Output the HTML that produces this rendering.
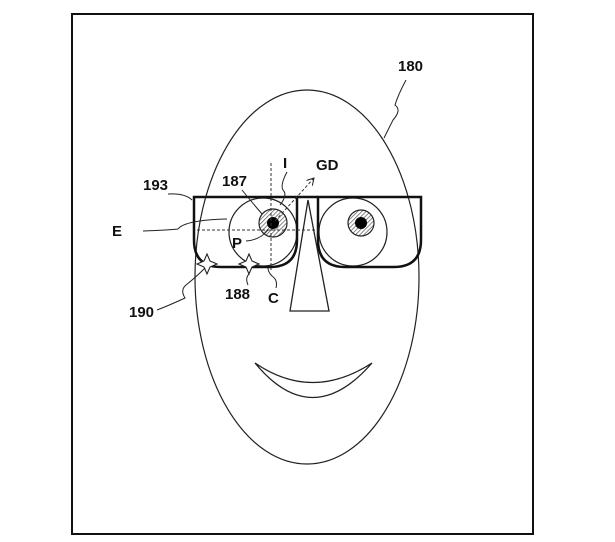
<!DOCTYPE html>
<html><head><style>body{margin:0;background:#fff}svg{display:block}text{font-family:"Liberation Sans",sans-serif;font-weight:bold;font-size:15px;fill:#111}</style></head><body>
<svg width="615" height="542" viewBox="0 0 615 542" xmlns="http://www.w3.org/2000/svg">
<defs><pattern id="h" width="3" height="3" patternUnits="userSpaceOnUse" patternTransform="rotate(45)"><rect width="3" height="3" fill="#fff"/><line x1="0" y1="0" x2="0" y2="3" stroke="#555" stroke-width="1.4"/></pattern>
<marker id="a" markerWidth="8" markerHeight="8" refX="7" refY="4" orient="auto"><path d="M0,0 L7,4 L0,8" fill="none" stroke="#222" stroke-width="1"/></marker></defs>
<rect x="72" y="14" width="461" height="520" fill="none" stroke="#111" stroke-width="2"/>
<ellipse cx="307" cy="277" rx="112" ry="187" fill="none" stroke="#222" stroke-width="1.2"/>
<path d="M255,363 Q312,432 372,363 Q312,402 255,363Z" fill="none" stroke="#222" stroke-width="1.3"/>
<path d="M308,200 L290,311 L329,311Z" fill="none" stroke="#222" stroke-width="1.3"/>
<circle cx="263" cy="232" r="34" fill="none" stroke="#222" stroke-width="1.2"/>
<circle cx="353" cy="232" r="34" fill="none" stroke="#222" stroke-width="1.2"/>
<circle cx="273" cy="223" r="14" fill="url(#h)" stroke="#222" stroke-width="1.2"/>
<circle cx="273" cy="223" r="6" fill="#000"/>
<circle cx="361" cy="223" r="13" fill="url(#h)" stroke="#222" stroke-width="1.2"/>
<circle cx="361" cy="223" r="6" fill="#000"/>
<path d="M194,197 L297,197 L297,240 Q297,267 270,267 L221,267 Q194,267 194,240Z" fill="none" stroke="#111" stroke-width="2.5"/>
<path d="M318,197 L421,197 L421,240 Q421,267 394,267 L345,267 Q318,267 318,240Z" fill="none" stroke="#111" stroke-width="2.5"/>
<line x1="297" y1="197" x2="318" y2="197" stroke="#111" stroke-width="2.5"/>
<line x1="271" y1="163" x2="271" y2="270" stroke="#333" stroke-dasharray="3,2" stroke-width="1"/>
<line x1="197" y1="230" x2="318" y2="230" stroke="#333" stroke-dasharray="3,2" stroke-width="1"/>
<line x1="275" y1="221" x2="314" y2="178" stroke="#333" stroke-dasharray="3,2" stroke-width="1" marker-end="url(#a)"/>
<path d="M207,254 L210,261 L217,264 L210,267 L207,274 L204,267 L197,264 L204,261Z" fill="#fff" stroke="#222" stroke-width="1.1"/>
<path d="M249,254 L252,261 L259,264 L252,267 L249,274 L246,267 L239,264 L246,261Z" fill="#fff" stroke="#222" stroke-width="1.1"/>
<g fill="none" stroke="#222" stroke-width="1">
<path d="M406,80 Q398,95 395,105 Q402,110 393,120 Q388,130 384,138"/>
<path d="M168,194 Q185,193 192,200"/>
<path d="M143,231 Q170,230 178,229 Q185,220 227,219"/>
<path d="M242,190 Q250,200 262,214"/>
<path d="M287,172 Q280,185 283,190 Q288,195 280,205"/>
<path d="M246,241 Q260,240 268,230"/>
<path d="M157,310 Q170,305 185,298 Q180,290 186,285 Q195,278 205,268"/>
<path d="M248,285 Q245,278 249,274"/>
<path d="M276,288 Q278,280 272,276 Q268,272 268,268"/>
</g>
<text x="398" y="71">180</text>
<text x="143" y="190">193</text>
<text x="112" y="236">E</text>
<text x="222" y="186">187</text>
<text x="283" y="168">I</text>
<text x="316" y="170">GD</text>
<text x="232" y="248">P</text>
<text x="129" y="317">190</text>
<text x="225" y="299">188</text>
<text x="268" y="303">C</text>
</svg>
</body></html>
